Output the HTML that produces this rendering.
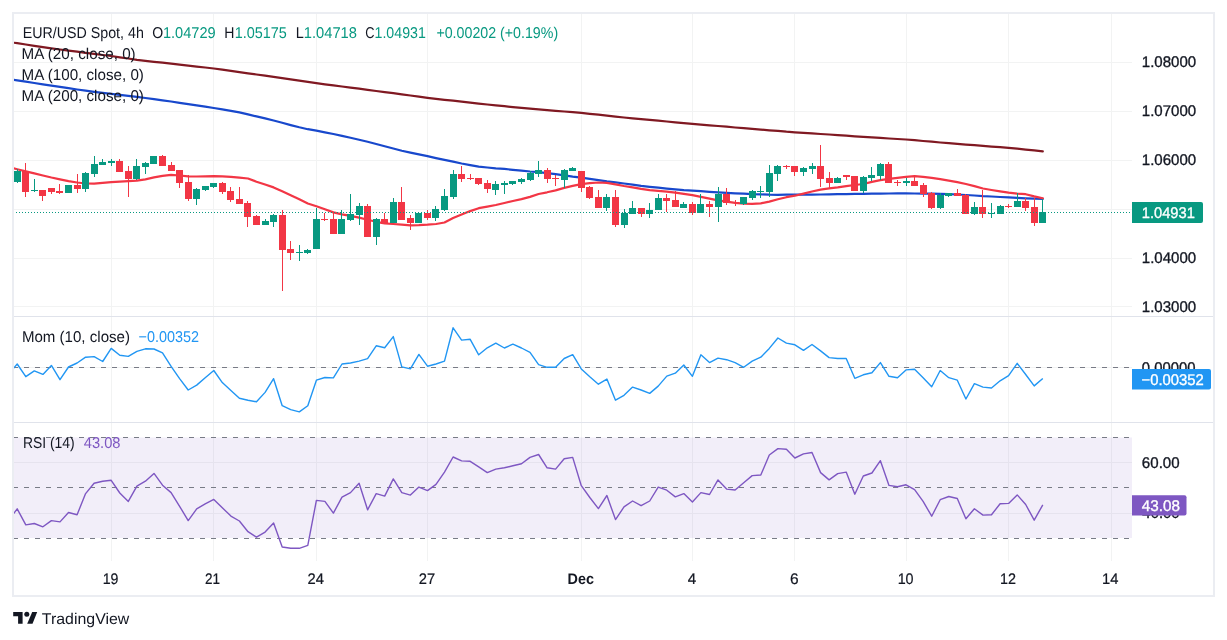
<!DOCTYPE html><html><head><meta charset="utf-8"><style>
html,body{margin:0;padding:0;background:#fff;width:1227px;height:640px;overflow:hidden}
svg{display:block;will-change:transform}
text{font-family:"Liberation Sans",Arial,sans-serif;white-space:pre;text-rendering:geometricPrecision}
</style></head><body>
<svg width="1227" height="640" viewBox="0 0 1227 640">
<rect width="1227" height="640" fill="#fff"/>
<path d="M14 62.5H1132M14 111.5H1132M14 160.5H1132M14 209.5H1132M14 258.5H1132M14 306.5H1132M14 367.5H1132M14 462.5H1132M14 513.5H1132M111.5 14V561M213.5 14V561M316.5 14V561M427.5 14V561M581.5 14V561M692.5 14V561M794.5 14V561M906.5 14V561M1008.5 14V561M1111.5 14V561" stroke="#f2f3f3" stroke-width="1" fill="none"/>
<rect x="14" y="437.5" width="1118" height="100.5" fill="rgb(126,87,194)" fill-opacity="0.1"/>
<path d="M14 316.5H1213M14 422.5H1213" stroke="#e0e3eb" stroke-width="1" fill="none"/>
<path d="M13 367.5H1132M13 437.5H1132M13 487.5H1132M13 538.5H1132" stroke="#787b86" stroke-width="1" stroke-dasharray="5 6" fill="none"/>
<defs><clipPath id="cm"><rect x="14" y="14" width="1118" height="302"/></clipPath>
<clipPath id="cmo"><rect x="14" y="317" width="1118" height="105"/></clipPath>
<clipPath id="cr"><rect x="14" y="423" width="1118" height="138"/></clipPath></defs>
<g clip-path="url(#cm)">
<path d="M8.7 42.0 L17.2 43.2 L25.8 44.5 L34.3 45.8 L42.9 47.1 L51.4 48.4 L60.0 49.5 L68.5 50.6 L77.1 51.7 L85.6 52.8 L94.1 53.9 L102.7 55.0 L111.2 56.0 L119.8 57.3 L128.3 58.5 L136.9 59.8 L145.4 60.8 L154.0 61.8 L162.5 62.7 L171.1 63.7 L179.6 64.7 L188.2 65.6 L196.7 66.6 L205.2 67.5 L213.8 68.5 L222.3 69.7 L230.9 70.9 L239.4 72.1 L248.0 73.3 L256.5 74.5 L265.1 75.7 L273.6 76.9 L282.2 78.2 L290.7 79.4 L299.3 80.7 L307.8 81.9 L316.4 83.2 L324.9 84.3 L333.4 85.4 L342.0 86.5 L350.5 87.6 L359.1 88.7 L367.6 89.8 L376.2 91.0 L384.7 92.1 L393.3 93.2 L401.8 94.4 L410.4 95.5 L418.9 96.7 L427.5 97.8 L436.0 98.8 L444.5 99.8 L453.1 100.7 L461.6 101.7 L470.2 102.7 L478.7 103.6 L487.3 104.5 L495.8 105.3 L504.4 106.2 L512.9 107.1 L521.5 107.9 L530.0 108.7 L538.6 109.4 L547.1 110.1 L555.6 110.8 L564.2 111.5 L572.7 112.2 L581.3 112.9 L589.8 113.8 L598.4 114.7 L606.9 115.7 L615.5 116.6 L624.0 117.5 L632.6 118.3 L641.1 119.1 L649.7 119.9 L658.2 120.7 L666.8 121.5 L675.3 122.3 L683.8 123.1 L692.4 123.9 L700.9 124.6 L709.5 125.3 L718.0 126.0 L726.6 126.7 L735.1 127.5 L743.7 128.2 L752.2 128.9 L760.8 129.6 L769.3 130.3 L777.9 130.9 L786.4 131.7 L794.9 132.3 L803.5 132.9 L812.0 133.4 L820.6 134.0 L829.1 134.5 L837.7 135.1 L846.2 135.7 L854.8 136.3 L863.3 136.8 L871.9 137.4 L880.4 137.9 L889.0 138.5 L897.5 139.0 L906.0 139.5 L914.6 140.2 L923.1 141.0 L931.7 141.7 L940.2 142.5 L948.8 143.2 L957.3 143.9 L965.9 144.6 L974.4 145.2 L983.0 145.9 L991.5 146.6 L1000.1 147.2 L1008.6 147.9 L1017.2 148.7 L1025.7 149.6 L1034.2 150.4 L1042.8 151.3" stroke="#801922" stroke-width="2.2" fill="none" stroke-linejoin="round" stroke-linecap="round"/>
<path d="M8.7 79.0 L17.2 80.4 L25.8 81.7 L34.3 83.0 L42.9 84.3 L51.4 85.6 L60.0 86.9 L68.5 88.2 L77.1 89.5 L85.6 90.7 L94.1 91.8 L102.7 92.8 L111.2 93.8 L119.8 94.9 L128.3 95.9 L136.9 96.9 L145.4 98.0 L154.0 99.2 L162.5 100.3 L171.1 101.5 L179.6 102.8 L188.2 104.1 L196.7 105.4 L205.2 106.7 L213.8 108.0 L222.3 109.4 L230.9 110.8 L239.4 112.4 L248.0 114.4 L256.5 116.4 L265.1 118.4 L273.6 120.5 L282.2 122.8 L290.7 125.1 L299.3 127.3 L307.8 129.2 L316.4 130.7 L324.9 132.3 L333.4 134.0 L342.0 135.9 L350.5 137.8 L359.1 139.7 L367.6 141.8 L376.2 144.0 L384.7 146.3 L393.3 148.5 L401.8 150.7 L410.4 152.6 L418.9 154.4 L427.5 156.2 L436.0 158.1 L444.5 159.9 L453.1 161.7 L461.6 163.5 L470.2 165.1 L478.7 166.6 L487.3 167.5 L495.8 168.3 L504.4 168.9 L512.9 169.8 L521.5 170.6 L530.0 171.5 L538.6 172.2 L547.1 173.1 L555.6 174.2 L564.2 175.3 L572.7 176.6 L581.3 177.7 L589.8 178.9 L598.4 180.2 L606.9 181.4 L615.5 182.4 L624.0 183.5 L632.6 184.7 L641.1 185.9 L649.7 186.9 L658.2 187.7 L666.8 188.6 L675.3 189.4 L683.8 190.2 L692.4 190.7 L700.9 191.2 L709.5 191.8 L718.0 192.3 L726.6 192.8 L735.1 193.3 L743.7 193.7 L752.2 194.2 L760.8 194.4 L769.3 194.7 L777.9 194.8 L786.4 194.7 L794.9 194.6 L803.5 194.6 L812.0 194.6 L820.6 194.5 L829.1 194.3 L837.7 194.2 L846.2 194.1 L854.8 193.9 L863.3 193.8 L871.9 193.6 L880.4 193.6 L889.0 193.5 L897.5 193.4 L906.0 193.4 L914.6 193.5 L923.1 193.6 L931.7 193.7 L940.2 193.8 L948.8 194.1 L957.3 194.5 L965.9 195.0 L974.4 195.5 L983.0 196.1 L991.5 196.5 L1000.1 197.0 L1008.6 197.4 L1017.2 197.9 L1025.7 198.3 L1034.2 198.6 L1042.8 198.9" stroke="#1848cc" stroke-width="2.2" fill="none" stroke-linejoin="round" stroke-linecap="round"/>
<path d="M8.7 167.1 L17.2 169.2 L25.8 171.4 L34.3 173.4 L42.9 175.5 L51.4 177.5 L60.0 179.3 L68.5 181.1 L77.1 182.5 L85.6 183.5 L94.1 183.6 L102.7 182.9 L111.2 182.2 L119.8 181.7 L128.3 181.2 L136.9 180.6 L145.4 179.4 L154.0 177.4 L162.5 175.9 L171.1 174.9 L179.6 175.5 L188.2 176.3 L196.7 176.5 L205.2 176.3 L213.8 176.1 L222.3 176.3 L230.9 176.8 L239.4 177.6 L248.0 178.5 L256.5 181.7 L265.1 184.5 L273.6 187.4 L282.2 191.3 L290.7 195.3 L299.3 199.3 L307.8 203.5 L316.4 206.2 L324.9 209.3 L333.4 212.4 L342.0 214.4 L350.5 215.8 L359.1 217.6 L367.6 219.8 L376.2 221.8 L384.7 223.3 L393.3 224.0 L401.8 224.6 L410.4 225.3 L418.9 225.1 L427.5 224.7 L436.0 224.0 L444.5 222.5 L453.1 218.0 L461.6 214.6 L470.2 211.1 L478.7 208.2 L487.3 206.6 L495.8 205.0 L504.4 203.0 L512.9 201.0 L521.5 199.1 L530.0 196.9 L538.6 194.0 L547.1 192.3 L555.6 190.4 L564.2 187.9 L572.7 185.9 L581.3 184.1 L589.8 183.1 L598.4 182.5 L606.9 182.8 L615.5 184.3 L624.0 186.0 L632.6 187.4 L641.1 188.9 L649.7 190.1 L658.2 190.8 L666.8 191.6 L675.3 192.6 L683.8 193.8 L692.4 195.2 L700.9 196.9 L709.5 198.7 L718.0 200.3 L726.6 201.7 L735.1 202.9 L743.7 203.6 L752.2 203.8 L760.8 203.3 L769.3 201.6 L777.9 199.3 L786.4 197.2 L794.9 195.7 L803.5 193.6 L812.0 191.5 L820.6 189.6 L829.1 188.4 L837.7 187.4 L846.2 186.2 L854.8 185.0 L863.3 184.0 L871.9 181.9 L880.4 180.1 L889.0 178.8 L897.5 177.8 L906.0 176.8 L914.6 176.2 L923.1 176.8 L931.7 177.9 L940.2 179.1 L948.8 180.6 L957.3 182.1 L965.9 184.0 L974.4 186.1 L983.0 188.5 L991.5 190.0 L1000.1 191.4 L1008.6 192.6 L1017.2 193.6 L1025.7 194.2 L1034.2 196.4 L1042.8 198.3" stroke="#f23645" stroke-width="2.2" fill="none" stroke-linejoin="round" stroke-linecap="round"/>
<rect x="17" y="169" width="1" height="2" fill="#089981"/>
<rect x="17" y="182" width="1" height="1" fill="#089981"/>
<rect x="14" y="171" width="7" height="11" fill="#089981"/>
<rect x="25" y="163" width="1" height="8" fill="#f23645"/>
<rect x="25" y="192" width="1" height="5" fill="#f23645"/>
<rect x="22" y="171" width="7" height="21" fill="#f23645"/>
<rect x="34" y="179" width="1" height="11" fill="#089981"/>
<rect x="34" y="191" width="1" height="1" fill="#089981"/>
<rect x="31" y="190" width="7" height="1" fill="#089981"/>
<rect x="42" y="196" width="1" height="5" fill="#f23645"/>
<rect x="39" y="190" width="7" height="6" fill="#f23645"/>
<rect x="51" y="192" width="1" height="2" fill="#f23645"/>
<rect x="48" y="188" width="7" height="4" fill="#f23645"/>
<rect x="59" y="184" width="1" height="7" fill="#f23645"/>
<rect x="59" y="193" width="1" height="1" fill="#f23645"/>
<rect x="56" y="191" width="7" height="2" fill="#f23645"/>
<rect x="65" y="185" width="7" height="8" fill="#089981"/>
<rect x="77" y="174" width="1" height="11" fill="#f23645"/>
<rect x="77" y="189" width="1" height="4" fill="#f23645"/>
<rect x="74" y="185" width="7" height="4" fill="#f23645"/>
<rect x="85" y="172" width="1" height="1" fill="#089981"/>
<rect x="85" y="189" width="1" height="3" fill="#089981"/>
<rect x="82" y="173" width="7" height="16" fill="#089981"/>
<rect x="94" y="156" width="1" height="8" fill="#089981"/>
<rect x="94" y="174" width="1" height="3" fill="#089981"/>
<rect x="91" y="164" width="7" height="10" fill="#089981"/>
<rect x="102" y="159" width="1" height="3" fill="#089981"/>
<rect x="99" y="162" width="7" height="3" fill="#089981"/>
<rect x="111" y="159" width="1" height="2" fill="#089981"/>
<rect x="111" y="163" width="1" height="3" fill="#089981"/>
<rect x="108" y="161" width="7" height="2" fill="#089981"/>
<rect x="119" y="159" width="1" height="2" fill="#f23645"/>
<rect x="116" y="161" width="7" height="11" fill="#f23645"/>
<rect x="128" y="166" width="1" height="5" fill="#f23645"/>
<rect x="128" y="179" width="1" height="18" fill="#f23645"/>
<rect x="125" y="171" width="7" height="8" fill="#f23645"/>
<rect x="136" y="159" width="1" height="7" fill="#089981"/>
<rect x="136" y="179" width="1" height="1" fill="#089981"/>
<rect x="133" y="166" width="7" height="13" fill="#089981"/>
<rect x="145" y="162" width="1" height="1" fill="#089981"/>
<rect x="145" y="167" width="1" height="7" fill="#089981"/>
<rect x="142" y="163" width="7" height="4" fill="#089981"/>
<rect x="150" y="156" width="7" height="8" fill="#089981"/>
<rect x="162" y="155" width="1" height="1" fill="#f23645"/>
<rect x="159" y="156" width="7" height="10" fill="#f23645"/>
<rect x="171" y="162" width="1" height="3" fill="#f23645"/>
<rect x="168" y="165" width="7" height="6" fill="#f23645"/>
<rect x="179" y="183" width="1" height="5" fill="#f23645"/>
<rect x="176" y="170" width="7" height="13" fill="#f23645"/>
<rect x="188" y="175" width="1" height="7" fill="#f23645"/>
<rect x="188" y="199" width="1" height="2" fill="#f23645"/>
<rect x="185" y="182" width="7" height="17" fill="#f23645"/>
<rect x="196" y="188" width="1" height="1" fill="#089981"/>
<rect x="196" y="199" width="1" height="6" fill="#089981"/>
<rect x="193" y="189" width="7" height="10" fill="#089981"/>
<rect x="205" y="190" width="1" height="1" fill="#089981"/>
<rect x="202" y="186" width="7" height="4" fill="#089981"/>
<rect x="213" y="187" width="1" height="1" fill="#089981"/>
<rect x="210" y="183" width="7" height="4" fill="#089981"/>
<rect x="222" y="182" width="1" height="1" fill="#f23645"/>
<rect x="222" y="192" width="1" height="2" fill="#f23645"/>
<rect x="219" y="183" width="7" height="9" fill="#f23645"/>
<rect x="230" y="187" width="1" height="4" fill="#f23645"/>
<rect x="230" y="200" width="1" height="2" fill="#f23645"/>
<rect x="227" y="191" width="7" height="9" fill="#f23645"/>
<rect x="239" y="187" width="1" height="12" fill="#f23645"/>
<rect x="236" y="199" width="7" height="5" fill="#f23645"/>
<rect x="247" y="201" width="1" height="2" fill="#f23645"/>
<rect x="247" y="217" width="1" height="10" fill="#f23645"/>
<rect x="244" y="203" width="7" height="14" fill="#f23645"/>
<rect x="256" y="215" width="1" height="1" fill="#f23645"/>
<rect x="253" y="216" width="7" height="9" fill="#f23645"/>
<rect x="265" y="219" width="1" height="2" fill="#089981"/>
<rect x="262" y="221" width="7" height="4" fill="#089981"/>
<rect x="273" y="214" width="1" height="1" fill="#089981"/>
<rect x="273" y="222" width="1" height="5" fill="#089981"/>
<rect x="270" y="215" width="7" height="7" fill="#089981"/>
<rect x="282" y="210" width="1" height="5" fill="#f23645"/>
<rect x="282" y="250" width="1" height="41" fill="#f23645"/>
<rect x="279" y="215" width="7" height="35" fill="#f23645"/>
<rect x="290" y="241" width="1" height="8" fill="#f23645"/>
<rect x="290" y="253" width="1" height="7" fill="#f23645"/>
<rect x="287" y="249" width="7" height="4" fill="#f23645"/>
<rect x="299" y="245" width="1" height="7" fill="#089981"/>
<rect x="299" y="253" width="1" height="8" fill="#089981"/>
<rect x="296" y="252" width="7" height="1" fill="#089981"/>
<rect x="307" y="249" width="1" height="1" fill="#089981"/>
<rect x="307" y="253" width="1" height="1" fill="#089981"/>
<rect x="304" y="250" width="7" height="3" fill="#089981"/>
<rect x="316" y="208" width="1" height="11" fill="#089981"/>
<rect x="313" y="219" width="7" height="30" fill="#089981"/>
<rect x="324" y="213" width="1" height="6" fill="#f23645"/>
<rect x="324" y="220" width="1" height="1" fill="#f23645"/>
<rect x="321" y="219" width="7" height="1" fill="#f23645"/>
<rect x="333" y="212" width="1" height="7" fill="#f23645"/>
<rect x="330" y="219" width="7" height="15" fill="#f23645"/>
<rect x="341" y="210" width="1" height="9" fill="#089981"/>
<rect x="338" y="219" width="7" height="15" fill="#089981"/>
<rect x="350" y="194" width="1" height="20" fill="#089981"/>
<rect x="350" y="220" width="1" height="1" fill="#089981"/>
<rect x="347" y="214" width="7" height="6" fill="#089981"/>
<rect x="359" y="203" width="1" height="3" fill="#089981"/>
<rect x="359" y="215" width="1" height="10" fill="#089981"/>
<rect x="356" y="206" width="7" height="9" fill="#089981"/>
<rect x="367" y="204" width="1" height="2" fill="#f23645"/>
<rect x="364" y="206" width="7" height="31" fill="#f23645"/>
<rect x="376" y="218" width="1" height="1" fill="#089981"/>
<rect x="376" y="237" width="1" height="8" fill="#089981"/>
<rect x="373" y="219" width="7" height="18" fill="#089981"/>
<rect x="384" y="213" width="1" height="6" fill="#f23645"/>
<rect x="381" y="219" width="7" height="4" fill="#f23645"/>
<rect x="393" y="198" width="1" height="4" fill="#089981"/>
<rect x="390" y="202" width="7" height="21" fill="#089981"/>
<rect x="401" y="187" width="1" height="15" fill="#f23645"/>
<rect x="398" y="202" width="7" height="18" fill="#f23645"/>
<rect x="410" y="215" width="1" height="3" fill="#f23645"/>
<rect x="410" y="223" width="1" height="7" fill="#f23645"/>
<rect x="407" y="218" width="7" height="5" fill="#f23645"/>
<rect x="418" y="212" width="1" height="1" fill="#089981"/>
<rect x="415" y="213" width="7" height="10" fill="#089981"/>
<rect x="427" y="210" width="1" height="3" fill="#f23645"/>
<rect x="427" y="218" width="1" height="2" fill="#f23645"/>
<rect x="424" y="213" width="7" height="5" fill="#f23645"/>
<rect x="435" y="206" width="1" height="3" fill="#089981"/>
<rect x="435" y="218" width="1" height="3" fill="#089981"/>
<rect x="432" y="209" width="7" height="9" fill="#089981"/>
<rect x="444" y="189" width="1" height="7" fill="#089981"/>
<rect x="444" y="210" width="1" height="1" fill="#089981"/>
<rect x="441" y="196" width="7" height="14" fill="#089981"/>
<rect x="453" y="170" width="1" height="4" fill="#089981"/>
<rect x="453" y="197" width="1" height="2" fill="#089981"/>
<rect x="450" y="174" width="7" height="23" fill="#089981"/>
<rect x="461" y="166" width="1" height="8" fill="#f23645"/>
<rect x="461" y="179" width="1" height="3" fill="#f23645"/>
<rect x="458" y="174" width="7" height="5" fill="#f23645"/>
<rect x="470" y="174" width="1" height="4" fill="#f23645"/>
<rect x="470" y="179" width="1" height="1" fill="#f23645"/>
<rect x="467" y="178" width="7" height="1" fill="#f23645"/>
<rect x="478" y="184" width="1" height="1" fill="#f23645"/>
<rect x="475" y="178" width="7" height="6" fill="#f23645"/>
<rect x="487" y="180" width="1" height="3" fill="#f23645"/>
<rect x="487" y="189" width="1" height="4" fill="#f23645"/>
<rect x="484" y="183" width="7" height="6" fill="#f23645"/>
<rect x="495" y="181" width="1" height="3" fill="#089981"/>
<rect x="495" y="190" width="1" height="5" fill="#089981"/>
<rect x="492" y="184" width="7" height="6" fill="#089981"/>
<rect x="504" y="181" width="1" height="2" fill="#089981"/>
<rect x="504" y="185" width="1" height="9" fill="#089981"/>
<rect x="501" y="183" width="7" height="2" fill="#089981"/>
<rect x="512" y="184" width="1" height="1" fill="#089981"/>
<rect x="509" y="181" width="7" height="3" fill="#089981"/>
<rect x="521" y="178" width="1" height="1" fill="#089981"/>
<rect x="521" y="182" width="1" height="2" fill="#089981"/>
<rect x="518" y="179" width="7" height="3" fill="#089981"/>
<rect x="530" y="171" width="1" height="2" fill="#089981"/>
<rect x="530" y="180" width="1" height="1" fill="#089981"/>
<rect x="527" y="173" width="7" height="7" fill="#089981"/>
<rect x="538" y="161" width="1" height="9" fill="#089981"/>
<rect x="538" y="174" width="1" height="3" fill="#089981"/>
<rect x="535" y="170" width="7" height="4" fill="#089981"/>
<rect x="547" y="168" width="1" height="2" fill="#f23645"/>
<rect x="547" y="179" width="1" height="4" fill="#f23645"/>
<rect x="544" y="170" width="7" height="9" fill="#f23645"/>
<rect x="555" y="175" width="1" height="3" fill="#f23645"/>
<rect x="555" y="179" width="1" height="7" fill="#f23645"/>
<rect x="552" y="178" width="7" height="1" fill="#f23645"/>
<rect x="564" y="169" width="1" height="1" fill="#089981"/>
<rect x="564" y="180" width="1" height="8" fill="#089981"/>
<rect x="561" y="170" width="7" height="10" fill="#089981"/>
<rect x="572" y="167" width="1" height="1" fill="#089981"/>
<rect x="569" y="168" width="7" height="3" fill="#089981"/>
<rect x="581" y="188" width="1" height="4" fill="#f23645"/>
<rect x="578" y="171" width="7" height="17" fill="#f23645"/>
<rect x="589" y="186" width="1" height="1" fill="#f23645"/>
<rect x="589" y="198" width="1" height="1" fill="#f23645"/>
<rect x="586" y="187" width="7" height="11" fill="#f23645"/>
<rect x="598" y="190" width="1" height="7" fill="#f23645"/>
<rect x="595" y="197" width="7" height="11" fill="#f23645"/>
<rect x="606" y="194" width="1" height="3" fill="#089981"/>
<rect x="606" y="208" width="1" height="3" fill="#089981"/>
<rect x="603" y="197" width="7" height="11" fill="#089981"/>
<rect x="615" y="190" width="1" height="7" fill="#f23645"/>
<rect x="615" y="225" width="1" height="2" fill="#f23645"/>
<rect x="612" y="197" width="7" height="28" fill="#f23645"/>
<rect x="624" y="209" width="1" height="4" fill="#089981"/>
<rect x="624" y="225" width="1" height="3" fill="#089981"/>
<rect x="621" y="213" width="7" height="12" fill="#089981"/>
<rect x="632" y="201" width="1" height="7" fill="#089981"/>
<rect x="629" y="208" width="7" height="6" fill="#089981"/>
<rect x="641" y="214" width="1" height="3" fill="#f23645"/>
<rect x="638" y="208" width="7" height="6" fill="#f23645"/>
<rect x="649" y="203" width="1" height="7" fill="#089981"/>
<rect x="649" y="214" width="1" height="4" fill="#089981"/>
<rect x="646" y="210" width="7" height="4" fill="#089981"/>
<rect x="658" y="194" width="1" height="4" fill="#089981"/>
<rect x="655" y="198" width="7" height="12" fill="#089981"/>
<rect x="666" y="194" width="1" height="4" fill="#f23645"/>
<rect x="666" y="201" width="1" height="11" fill="#f23645"/>
<rect x="663" y="198" width="7" height="3" fill="#f23645"/>
<rect x="675" y="191" width="1" height="9" fill="#f23645"/>
<rect x="672" y="200" width="7" height="7" fill="#f23645"/>
<rect x="683" y="202" width="1" height="2" fill="#089981"/>
<rect x="680" y="204" width="7" height="4" fill="#089981"/>
<rect x="692" y="202" width="1" height="2" fill="#f23645"/>
<rect x="692" y="213" width="1" height="2" fill="#f23645"/>
<rect x="689" y="204" width="7" height="9" fill="#f23645"/>
<rect x="700" y="194" width="1" height="10" fill="#089981"/>
<rect x="697" y="204" width="7" height="9" fill="#089981"/>
<rect x="709" y="201" width="1" height="3" fill="#f23645"/>
<rect x="709" y="207" width="1" height="10" fill="#f23645"/>
<rect x="706" y="204" width="7" height="3" fill="#f23645"/>
<rect x="718" y="187" width="1" height="7" fill="#089981"/>
<rect x="718" y="207" width="1" height="15" fill="#089981"/>
<rect x="715" y="194" width="7" height="13" fill="#089981"/>
<rect x="726" y="188" width="1" height="6" fill="#f23645"/>
<rect x="726" y="203" width="1" height="2" fill="#f23645"/>
<rect x="723" y="194" width="7" height="9" fill="#f23645"/>
<rect x="735" y="200" width="1" height="2" fill="#f23645"/>
<rect x="735" y="203" width="1" height="3" fill="#f23645"/>
<rect x="732" y="202" width="7" height="1" fill="#f23645"/>
<rect x="743" y="204" width="1" height="1" fill="#089981"/>
<rect x="740" y="197" width="7" height="7" fill="#089981"/>
<rect x="752" y="190" width="1" height="1" fill="#089981"/>
<rect x="752" y="198" width="1" height="2" fill="#089981"/>
<rect x="749" y="191" width="7" height="7" fill="#089981"/>
<rect x="760" y="186" width="1" height="5" fill="#089981"/>
<rect x="760" y="192" width="1" height="6" fill="#089981"/>
<rect x="757" y="191" width="7" height="1" fill="#089981"/>
<rect x="769" y="165" width="1" height="8" fill="#089981"/>
<rect x="769" y="192" width="1" height="5" fill="#089981"/>
<rect x="766" y="173" width="7" height="19" fill="#089981"/>
<rect x="777" y="165" width="1" height="1" fill="#089981"/>
<rect x="777" y="174" width="1" height="7" fill="#089981"/>
<rect x="774" y="166" width="7" height="8" fill="#089981"/>
<rect x="786" y="165" width="1" height="1" fill="#f23645"/>
<rect x="786" y="167" width="1" height="2" fill="#f23645"/>
<rect x="783" y="166" width="7" height="1" fill="#f23645"/>
<rect x="794" y="172" width="1" height="4" fill="#f23645"/>
<rect x="791" y="166" width="7" height="6" fill="#f23645"/>
<rect x="803" y="167" width="1" height="1" fill="#089981"/>
<rect x="803" y="172" width="1" height="4" fill="#089981"/>
<rect x="800" y="168" width="7" height="4" fill="#089981"/>
<rect x="812" y="163" width="1" height="3" fill="#089981"/>
<rect x="812" y="169" width="1" height="5" fill="#089981"/>
<rect x="809" y="166" width="7" height="3" fill="#089981"/>
<rect x="820" y="145" width="1" height="21" fill="#f23645"/>
<rect x="820" y="179" width="1" height="8" fill="#f23645"/>
<rect x="817" y="166" width="7" height="13" fill="#f23645"/>
<rect x="829" y="172" width="1" height="6" fill="#f23645"/>
<rect x="829" y="183" width="1" height="5" fill="#f23645"/>
<rect x="826" y="178" width="7" height="5" fill="#f23645"/>
<rect x="837" y="177" width="1" height="1" fill="#089981"/>
<rect x="834" y="178" width="7" height="5" fill="#089981"/>
<rect x="846" y="177" width="1" height="3" fill="#f23645"/>
<rect x="843" y="175" width="7" height="2" fill="#f23645"/>
<rect x="851" y="176" width="7" height="15" fill="#f23645"/>
<rect x="863" y="176" width="1" height="1" fill="#089981"/>
<rect x="863" y="191" width="1" height="2" fill="#089981"/>
<rect x="860" y="177" width="7" height="14" fill="#089981"/>
<rect x="871" y="167" width="1" height="8" fill="#089981"/>
<rect x="871" y="178" width="1" height="3" fill="#089981"/>
<rect x="868" y="175" width="7" height="3" fill="#089981"/>
<rect x="880" y="163" width="1" height="1" fill="#089981"/>
<rect x="880" y="176" width="1" height="4" fill="#089981"/>
<rect x="877" y="164" width="7" height="12" fill="#089981"/>
<rect x="888" y="162" width="1" height="2" fill="#f23645"/>
<rect x="885" y="164" width="7" height="19" fill="#f23645"/>
<rect x="897" y="180" width="1" height="2" fill="#f23645"/>
<rect x="897" y="183" width="1" height="3" fill="#f23645"/>
<rect x="894" y="182" width="7" height="1" fill="#f23645"/>
<rect x="906" y="178" width="1" height="3" fill="#089981"/>
<rect x="906" y="183" width="1" height="3" fill="#089981"/>
<rect x="903" y="181" width="7" height="2" fill="#089981"/>
<rect x="914" y="175" width="1" height="6" fill="#f23645"/>
<rect x="911" y="181" width="7" height="5" fill="#f23645"/>
<rect x="923" y="183" width="1" height="2" fill="#f23645"/>
<rect x="923" y="194" width="1" height="3" fill="#f23645"/>
<rect x="920" y="185" width="7" height="9" fill="#f23645"/>
<rect x="931" y="192" width="1" height="1" fill="#f23645"/>
<rect x="931" y="208" width="1" height="1" fill="#f23645"/>
<rect x="928" y="193" width="7" height="15" fill="#f23645"/>
<rect x="940" y="193" width="1" height="2" fill="#089981"/>
<rect x="940" y="208" width="1" height="1" fill="#089981"/>
<rect x="937" y="195" width="7" height="13" fill="#089981"/>
<rect x="948" y="196" width="1" height="1" fill="#089981"/>
<rect x="945" y="193" width="7" height="3" fill="#089981"/>
<rect x="957" y="189" width="1" height="4" fill="#f23645"/>
<rect x="954" y="193" width="7" height="3" fill="#f23645"/>
<rect x="965" y="194" width="1" height="1" fill="#f23645"/>
<rect x="962" y="195" width="7" height="19" fill="#f23645"/>
<rect x="974" y="202" width="1" height="5" fill="#089981"/>
<rect x="974" y="214" width="1" height="1" fill="#089981"/>
<rect x="971" y="207" width="7" height="7" fill="#089981"/>
<rect x="982" y="190" width="1" height="17" fill="#f23645"/>
<rect x="982" y="214" width="1" height="4" fill="#f23645"/>
<rect x="979" y="207" width="7" height="7" fill="#f23645"/>
<rect x="991" y="203" width="1" height="10" fill="#089981"/>
<rect x="991" y="214" width="1" height="4" fill="#089981"/>
<rect x="988" y="213" width="7" height="1" fill="#089981"/>
<rect x="1000" y="205" width="1" height="1" fill="#089981"/>
<rect x="997" y="206" width="7" height="8" fill="#089981"/>
<rect x="1008" y="204" width="1" height="2" fill="#f23645"/>
<rect x="1008" y="207" width="1" height="1" fill="#f23645"/>
<rect x="1005" y="206" width="7" height="1" fill="#f23645"/>
<rect x="1017" y="193" width="1" height="8" fill="#089981"/>
<rect x="1014" y="201" width="7" height="6" fill="#089981"/>
<rect x="1025" y="198" width="1" height="3" fill="#f23645"/>
<rect x="1025" y="208" width="1" height="3" fill="#f23645"/>
<rect x="1022" y="201" width="7" height="7" fill="#f23645"/>
<rect x="1034" y="198" width="1" height="9" fill="#f23645"/>
<rect x="1034" y="223" width="1" height="3" fill="#f23645"/>
<rect x="1031" y="207" width="7" height="16" fill="#f23645"/>
<rect x="1042" y="199" width="1" height="13" fill="#089981"/>
<rect x="1039" y="212" width="7" height="11" fill="#089981"/>
<path d="M13 212.5H1132" stroke="#089981" stroke-width="1" stroke-dasharray="1 2" fill="none"/>
</g>
<g clip-path="url(#cmo)"><path d="M13.0 368.9 L17.2 364.0 L25.8 376.7 L34.3 370.9 L42.9 374.4 L51.4 365.4 L60.0 379.7 L68.5 367.0 L77.1 363.0 L85.6 357.2 L94.1 356.6 L102.7 361.5 L111.2 348.4 L119.8 355.2 L128.3 356.4 L136.9 351.3 L145.4 348.8 L154.0 349.0 L162.5 352.9 L171.1 366.4 L179.6 378.7 L188.2 390.0 L196.7 385.1 L205.2 377.7 L213.8 370.5 L222.3 382.6 L230.9 390.4 L239.4 398.2 L248.0 400.2 L256.5 401.8 L265.1 392.4 L273.6 378.7 L282.2 405.7 L290.7 409.6 L299.3 411.9 L307.8 405.7 L316.4 380.2 L324.9 377.5 L333.4 377.9 L342.0 364.0 L350.5 363.0 L359.1 361.1 L367.6 358.7 L376.2 345.8 L384.7 347.8 L393.3 336.6 L401.8 366.9 L410.4 368.9 L418.9 354.4 L427.5 366.2 L436.0 364.0 L444.5 361.1 L453.1 327.8 L461.6 340.1 L470.2 339.3 L478.7 354.8 L487.3 347.8 L495.8 343.1 L504.4 348.0 L512.9 344.1 L521.5 348.0 L530.0 352.3 L538.6 364.6 L547.1 367.3 L555.6 367.3 L564.2 358.5 L572.7 354.6 L581.3 368.9 L589.8 376.7 L598.4 384.2 L606.9 379.1 L615.5 400.2 L624.0 395.3 L632.6 387.1 L641.1 390.0 L649.7 393.4 L658.2 386.1 L666.8 376.1 L675.3 373.2 L683.8 365.0 L692.4 376.3 L700.9 354.8 L709.5 362.6 L718.0 358.1 L726.6 359.7 L735.1 362.6 L743.7 367.3 L752.2 361.1 L760.8 357.2 L769.3 348.4 L777.9 338.0 L786.4 343.1 L794.9 344.8 L803.5 350.3 L812.0 344.5 L820.6 350.9 L829.1 357.6 L837.7 358.5 L846.2 358.5 L854.8 378.3 L863.3 374.8 L871.9 372.8 L880.4 362.6 L889.0 376.3 L897.5 377.7 L906.0 369.9 L914.6 369.3 L923.1 377.7 L931.7 386.8 L940.2 370.5 L948.8 377.7 L957.3 380.2 L965.9 399.0 L974.4 383.6 L983.0 387.1 L991.5 388.0 L1000.1 380.8 L1008.6 375.6 L1017.2 363.3 L1025.7 374.5 L1034.2 385.9 L1042.8 378.5" stroke="#2196f3" stroke-width="1.4" fill="none" stroke-linejoin="round"/></g>
<g clip-path="url(#cr)"><path d="M13.0 514.5 L17.2 508.8 L25.8 524.9 L34.3 523.5 L42.9 526.8 L51.4 520.6 L60.0 521.9 L68.5 512.5 L77.1 514.7 L85.6 493.6 L94.1 483.2 L102.7 481.2 L111.2 480.3 L119.8 493.0 L128.3 501.4 L136.9 486.1 L145.4 481.2 L154.0 473.4 L162.5 485.2 L171.1 492.6 L179.6 506.3 L188.2 520.6 L196.7 508.8 L205.2 503.9 L213.8 499.4 L222.3 507.8 L230.9 516.1 L239.4 521.0 L248.0 531.7 L256.5 537.2 L265.1 532.1 L273.6 522.9 L282.2 547.0 L290.7 548.3 L299.3 548.3 L307.8 545.4 L316.4 500.4 L324.9 501.4 L333.4 513.1 L342.0 497.1 L350.5 492.6 L359.1 483.2 L367.6 509.8 L376.2 493.6 L384.7 496.1 L393.3 478.9 L401.8 492.6 L410.4 495.1 L418.9 487.1 L427.5 490.6 L436.0 484.4 L444.5 472.1 L453.1 457.0 L461.6 460.9 L470.2 461.3 L478.7 466.8 L487.3 472.6 L495.8 469.1 L504.4 467.8 L512.9 465.8 L521.5 463.8 L530.0 457.4 L538.6 454.5 L547.1 467.8 L555.6 469.1 L564.2 458.8 L572.7 457.4 L581.3 485.7 L589.8 497.5 L598.4 508.6 L606.9 495.5 L615.5 519.6 L624.0 506.9 L632.6 501.0 L641.1 505.7 L649.7 501.0 L658.2 487.1 L666.8 490.2 L675.3 496.9 L683.8 493.6 L692.4 502.0 L700.9 492.6 L709.5 494.5 L718.0 479.9 L726.6 489.1 L735.1 490.0 L743.7 482.8 L752.2 475.6 L760.8 475.0 L769.3 455.0 L777.9 448.6 L786.4 449.2 L794.9 458.0 L803.5 453.9 L812.0 452.5 L820.6 472.6 L829.1 479.9 L837.7 473.6 L846.2 472.1 L854.8 494.2 L863.3 476.0 L871.9 473.0 L880.4 460.7 L889.0 485.4 L897.5 486.7 L906.0 484.8 L914.6 489.7 L923.1 501.4 L931.7 516.2 L940.2 499.7 L948.8 496.5 L957.3 498.5 L965.9 518.8 L974.4 508.8 L983.0 515.1 L991.5 514.8 L1000.1 503.7 L1008.6 503.4 L1017.2 494.9 L1025.7 504.5 L1034.2 520.2 L1042.8 504.8" stroke="#7e57c2" stroke-width="1.4" fill="none" stroke-linejoin="round"/></g>
<rect x="13" y="13" width="1201" height="583" fill="none" stroke="#ebedf2" stroke-width="2"/>
<text x="22.66" y="37.85" font-size="15.6" fill="#131722" textLength="121.16" lengthAdjust="spacingAndGlyphs">EUR/USD Spot, 4h</text>
<text x="152.22" y="37.85" font-size="15.6" fill="#131722" textLength="10.98" lengthAdjust="spacingAndGlyphs">O</text>
<text x="162.93" y="37.85" font-size="15.6" fill="#089981" textLength="52.69" lengthAdjust="spacingAndGlyphs">1.04729</text>
<text x="224.17" y="37.85" font-size="15.6" fill="#131722" textLength="10.17" lengthAdjust="spacingAndGlyphs">H</text>
<text x="234.74" y="37.85" font-size="15.6" fill="#089981" textLength="52.13" lengthAdjust="spacingAndGlyphs">1.05175</text>
<text x="295.64" y="37.85" font-size="15.6" fill="#131722" textLength="8.07" lengthAdjust="spacingAndGlyphs">L</text>
<text x="303.82" y="37.85" font-size="15.6" fill="#089981" textLength="53.17" lengthAdjust="spacingAndGlyphs">1.04718</text>
<text x="365.18" y="37.85" font-size="15.6" fill="#131722" textLength="9.24" lengthAdjust="spacingAndGlyphs">C</text>
<text x="374.56" y="37.85" font-size="15.6" fill="#089981" textLength="51.23" lengthAdjust="spacingAndGlyphs">1.04931</text>
<text x="436.42" y="37.85" font-size="15.6" fill="#089981" textLength="121.71" lengthAdjust="spacingAndGlyphs">+0.00202 (+0.19%)</text>
<text x="21.58" y="58.70" font-size="15.6" fill="#131722" textLength="114.09" lengthAdjust="spacingAndGlyphs">MA (20, close, 0)</text>
<text x="21.58" y="79.60" font-size="15.6" fill="#131722" textLength="122.31" lengthAdjust="spacingAndGlyphs">MA (100, close, 0)</text>
<text x="21.58" y="100.70" font-size="15.6" fill="#131722" textLength="122.31" lengthAdjust="spacingAndGlyphs">MA (200, close, 0)</text>
<text x="21.89" y="341.60" font-size="15.6" fill="#131722" textLength="108.12" lengthAdjust="spacingAndGlyphs">Mom (10, close)</text>
<text x="138.51" y="341.60" font-size="15.6" fill="#2196f3" textLength="60.57" lengthAdjust="spacingAndGlyphs">−0.00352</text>
<text x="22.89" y="447.90" font-size="15.6" fill="#131722" textLength="51.76" lengthAdjust="spacingAndGlyphs">RSI (14)</text>
<text x="83.76" y="447.90" font-size="15.6" fill="#7e57c2" textLength="36.77" lengthAdjust="spacingAndGlyphs">43.08</text>
<text x="1141.78" y="66.80" font-size="15.4" fill="#131722" textLength="54.35" lengthAdjust="spacingAndGlyphs" stroke="#131722" stroke-width="0.35">1.08000</text>
<text x="1141.78" y="115.80" font-size="15.4" fill="#131722" textLength="54.35" lengthAdjust="spacingAndGlyphs" stroke="#131722" stroke-width="0.35">1.07000</text>
<text x="1141.78" y="164.80" font-size="15.4" fill="#131722" textLength="54.35" lengthAdjust="spacingAndGlyphs" stroke="#131722" stroke-width="0.35">1.06000</text>
<text x="1141.78" y="262.80" font-size="15.4" fill="#131722" textLength="54.35" lengthAdjust="spacingAndGlyphs" stroke="#131722" stroke-width="0.35">1.04000</text>
<text x="1141.78" y="311.80" font-size="15.4" fill="#131722" textLength="54.35" lengthAdjust="spacingAndGlyphs" stroke="#131722" stroke-width="0.35">1.03000</text>
<text x="1141.82" y="372.60" font-size="15.4" fill="#131722" textLength="53.80" lengthAdjust="spacingAndGlyphs" stroke="#131722" stroke-width="0.35">0.00000</text>
<text x="1141.87" y="467.80" font-size="15.4" fill="#131722" textLength="37.74" lengthAdjust="spacingAndGlyphs" stroke="#131722" stroke-width="0.35">60.00</text>
<text x="1142.36" y="517.90" font-size="15.4" fill="#131722" textLength="37.24" lengthAdjust="spacingAndGlyphs" stroke="#131722" stroke-width="0.35">40.00</text>
<text x="102.74" y="583.80" font-size="15.3" fill="#131722" textLength="15.77" lengthAdjust="spacingAndGlyphs" stroke="#131722" stroke-width="0.2">19</text>
<text x="205.04" y="583.80" font-size="15.3" fill="#131722" textLength="15.04" lengthAdjust="spacingAndGlyphs" stroke="#131722" stroke-width="0.2">21</text>
<text x="307.48" y="583.80" font-size="15.3" fill="#131722" textLength="16.42" lengthAdjust="spacingAndGlyphs" stroke="#131722" stroke-width="0.2">24</text>
<text x="418.78" y="583.80" font-size="15.3" fill="#131722" textLength="16.36" lengthAdjust="spacingAndGlyphs" stroke="#131722" stroke-width="0.2">27</text>
<text x="567.56" y="583.80" font-size="15.3" fill="#131722" textLength="26.37" lengthAdjust="spacingAndGlyphs" font-weight="bold">Dec</text>
<text x="687.75" y="583.80" font-size="15.3" fill="#131722" textLength="8.46" lengthAdjust="spacingAndGlyphs" stroke="#131722" stroke-width="0.2">4</text>
<text x="789.94" y="583.80" font-size="15.3" fill="#131722" textLength="8.64" lengthAdjust="spacingAndGlyphs" stroke="#131722" stroke-width="0.2">6</text>
<text x="897.63" y="583.80" font-size="15.3" fill="#131722" textLength="15.96" lengthAdjust="spacingAndGlyphs" stroke="#131722" stroke-width="0.2">10</text>
<text x="999.93" y="583.80" font-size="15.3" fill="#131722" textLength="15.99" lengthAdjust="spacingAndGlyphs" stroke="#131722" stroke-width="0.2">12</text>
<text x="1102.00" y="583.80" font-size="15.3" fill="#131722" textLength="16.40" lengthAdjust="spacingAndGlyphs" stroke="#131722" stroke-width="0.2">14</text>
<text x="41.84" y="623.70" font-size="15.5" fill="#131722" textLength="87.50" lengthAdjust="spacingAndGlyphs">TradingView</text>
<path d="M1132.0 202.0H1201.0Q1203.0 202.0 1203.0 204.0V221.0Q1203.0 223.0 1201.0 223.0H1132.0Z" fill="#089981"/>
<path d="M1132.0 369.0H1209.0Q1211.0 369.0 1211.0 371.0V387.6Q1211.0 389.6 1209.0 389.6H1132.0Z" fill="#2196f3"/>
<path d="M1132.0 495.2H1184.5Q1186.5 495.2 1186.5 497.2V513.6Q1186.5 515.6 1184.5 515.6H1132.0Z" fill="#7e57c2"/>
<text x="1141.81" y="217.70" font-size="15.4" fill="#ffffff" textLength="53.04" lengthAdjust="spacingAndGlyphs" stroke="#ffffff" stroke-width="0.35">1.04931</text>
<text x="1141.48" y="384.90" font-size="15.4" fill="#ffffff" textLength="62.27" lengthAdjust="spacingAndGlyphs" stroke="#ffffff" stroke-width="0.35">−0.00352</text>
<text x="1141.75" y="510.70" font-size="15.4" fill="#ffffff" textLength="38.10" lengthAdjust="spacingAndGlyphs" stroke="#ffffff" stroke-width="0.35">43.08</text>
<g fill="#131722"><path d="M13.2 612H22.6V623.7H18.1V616.2H13.2Z"/><circle cx="26.8" cy="614.3" r="2.5"/><path d="M32.2 612H37.2L32.5 623.7H27.2Z"/></g>
</svg></body></html>
